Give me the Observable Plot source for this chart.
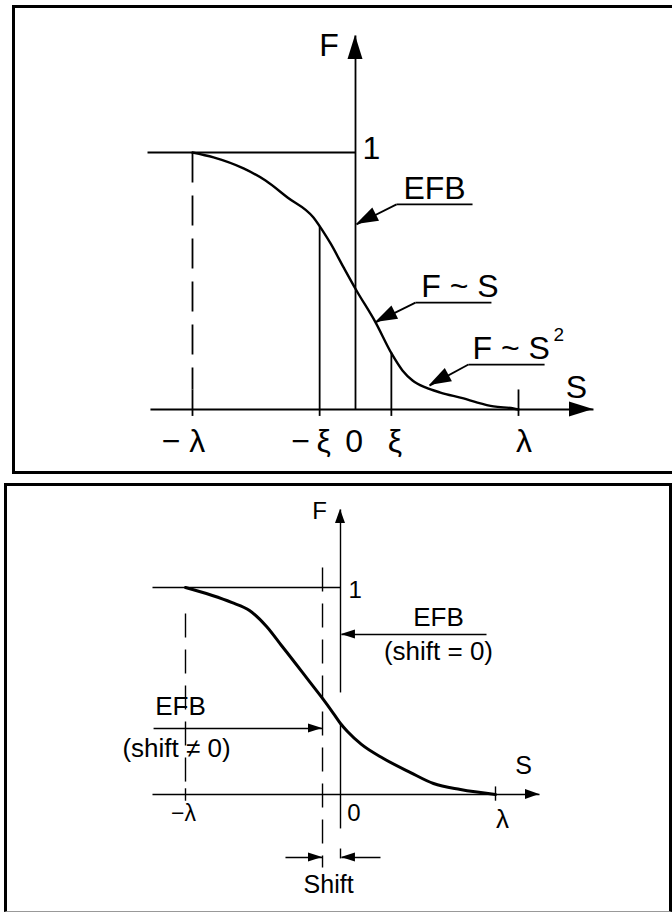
<!DOCTYPE html>
<html>
<head>
<meta charset="utf-8">
<script src="https://cdn.jsdelivr.net/npm/d3@7"></script>
<script src="https://cdn.jsdelivr.net/npm/@observablehq/plot@0.6"></script>
<style>
  html, body { margin: 0; padding: 0; background: #fff; }
  #page { position: relative; width: 672px; height: 912px; overflow: hidden; background: #fff;
          font-family: "Liberation Sans", Arial, sans-serif; }
  .box { position: absolute; border: 3px solid #000; box-sizing: content-box; }
  #topBox { left: 12px; top: 5px; width: 700px; height: 463px; }
  #botBox { left: 4px; top: 483px; width: 662px; height: 425px; border-bottom: 1px solid #999; }
  #topChart, #botChart { position: relative; }
</style>
</head>
<body>
<div id="page">
  <div class="box" id="topBox"></div>
  <div class="box" id="botBox"></div>
  <div id="topChart"></div>
  <div id="botChart"></div>
</div>
<script>
// ---------------- DATA (S in units of λ, F normalised) ----------------
// Top panel: transfer function F(S)
const topCurveS = [-1, -0.871, -0.687, -0.552, -0.417, -0.258, -0.202, -0.153, -0.074, 0.006, 0.123, 0.221, 0.288, 0.35, 0.429, 0.521, 0.663, 0.748, 0.847, 0.969, 1];
const topCurveF = [1, 0.981, 0.938, 0.891, 0.825, 0.747, 0.696, 0.646, 0.554, 0.463, 0.339, 0.218, 0.152, 0.113, 0.086, 0.066, 0.043, 0.027, 0.012, 0.004, 0];
const xi = 0.22;
const topTickLabels = ["\u2212 \u03bb", "\u2212\u2009\u03be", "0", "\u03be", "\u03bb"];
const topTickLabelS = [-1.055, -0.273, -0.009, 0.242, 1.034];
const topTickLabelF = -0.167;
// guide segments [S1, F1, S2, F2]
const topSolid = [
  [-1.276, 1, 0, 1],        // F = 1 level
  [-1.258, 0, 1.46, 0],     // S axis
  [0, 0, 0, 1.455],         // F axis
  [-xi, 0.712, -xi, -0.025],
  [xi, 0.222, xi, -0.025],
  [-1, 0.078, -1, -0.025],
  [1, 0.078, 1, -0.025]
];
const topDashed = [[-1, 1, -1, 0.078]];
// annotation labels: text, S, F (baseline), anchor
const topLabels = [
  ["F", -0.163, 1.377, "middle"],
  ["1", 0.098, 0.973, "middle"],
  ["S", 1.356, 0.043, "middle"],
  ["EFB", 0.485, 0.821, "middle"],
  ["F ~ S", 0.641, 0.436, "middle"],
  ["F ~ S", 0.718, 0.195, "start"]
];
const topSuper = [["2", 1.215, 0.265]];
const topUnderlines = [[0.252, 0.798, 0.718, 0.798], [0.368, 0.416, 0.834, 0.416], [0.693, 0.175, 1.16, 0.175]];
const topLeaders = [[0.252, 0.798, 0.006, 0.72], [0.368, 0.416, 0.123, 0.339], [0.693, 0.175, 0.454, 0.093]];
const topAxisHeads = [[1.3, 0, 1.46, 0], [0, 1.3, 0, 1.455]];

// Bottom panel: shifted EFB
const botCurveS = [-1, -0.703, -0.587, -0.477, -0.381, -0.29, -0.206, -0.116, -0.045, 0, 0.045, 0.135, 0.277, 0.452, 0.6, 0.774, 1];
const botCurveF = [1, 0.928, 0.889, 0.812, 0.72, 0.633, 0.551, 0.464, 0.391, 0.343, 0.304, 0.242, 0.174, 0.106, 0.053, 0.024, 0];
const shift = -0.116;
const botSolid = [
  [-1.213, 1, 0, 1],
  [-1.213, 0, 1.284, 0],
  [0, 0.493, 0, 1.377],
  [0, 0.343, 0, -0.164],
  [0, -0.261, 0, -0.309],
  [-1, 0.03, -1, -0.03],
  [1, 0.039, 1, -0.03]
];
const botDashed = [[-1, 0.874, -1, 0.03], [shift, 1.097, shift, -0.353]];
const botArrows = [
  [0.942, 0.773, 0.006, 0.773],
  [-1.206, 0.319, shift, 0.319],
  [-0.355, -0.304, shift, -0.304],
  [0.258, -0.304, 0.006, -0.304]
];
const botAxisHeads = [[1.1, 0, 1.284, 0], [0, 1.2, 0, 1.377]];
const botLabels = [
  ["F", -0.135, 1.329, 24],
  ["1", 0.094, 0.947, 24],
  ["S", 1.181, 0.101, 25],
  ["\u2212\u03bb", -1.013, -0.126, 23],
  ["0", 0.087, -0.126, 24],
  ["\u03bb", 1.045, -0.164, 26],
  ["EFB", 0.632, 0.812, 26],
  ["(shift = 0)", 0.632, 0.652, 26],
  ["EFB", -1.032, 0.382, 26],
  ["(shift \u2260 0)", -1.058, 0.179, 26],
  ["Shift", -0.077, -0.478, 25]
];

// ---------------- helpers ----------------
const seg = a => a.map(([x1, y1, x2, y2]) => ({x1, y1, x2, y2}));
const font = "'Liberation Sans', Arial, Helvetica, sans-serif";

function heads(data, len, wid) {
  const rows = seg(data);
  return Plot.dot(rows, {
    x: "x2", y: "y2", r: 1,
    render(index, scales) {
      const {x, y} = scales;
      const g = d3.create("svg:g");
      for (const i of index) {
        const d = rows[i];
        const ax = x(d.x1), ay = y(d.y1), bx = x(d.x2), by = y(d.y2);
        const a = Math.atan2(by - ay, bx - ax);
        const ux = Math.cos(a), uy = Math.sin(a);
        const px = -uy, py = ux;
        const cx = bx - ux * len, cy = by - uy * len;
        g.append("path")
          .attr("d", `M${bx},${by}L${cx + px * wid / 2},${cy + py * wid / 2}L${cx - px * wid / 2},${cy - py * wid / 2}Z`)
          .attr("fill", "#000");
      }
      return g.node();
    }
  });
}

// ---------------- top chart ----------------
const topCurve = topCurveS.map((S, i) => ({S, F: topCurveF[i]}));
const topTicks = topTickLabels.map((t, i) => ({t, S: topTickLabelS[i], F: topTickLabelF}));
const topText = topLabels.map(([t, S, F, anchor]) => ({t, S, F, anchor}));

const topPlot = Plot.plot({
  width: 672, height: 478,
  marginLeft: 192, marginRight: 154, marginTop: 152, marginBottom: 69,
  x: {domain: [-1, 1], axis: null},
  y: {domain: [0, 1], axis: null},
  style: {background: "transparent", fontFamily: font, color: "#000"},
  marks: [
    Plot.link(seg(topSolid), {x1: "x1", y1: "y1", x2: "x2", y2: "y2", stroke: "#000", strokeWidth: 1.8}),
    Plot.link(seg(topDashed), {x1: "x1", y1: "y1", x2: "x2", y2: "y2", stroke: "#000", strokeWidth: 1.8, strokeDasharray: "30,13"}),
    Plot.link(seg(topUnderlines), {x1: "x1", y1: "y1", x2: "x2", y2: "y2", stroke: "#000", strokeWidth: 1.8}),
    Plot.link(seg(topLeaders), {x1: "x1", y1: "y1", x2: "x2", y2: "y2", stroke: "#000", strokeWidth: 1.8}),
    Plot.line(topCurve, {x: "S", y: "F", stroke: "#000", strokeWidth: 2.4, curve: "monotone-x"}),
    heads(topLeaders, 22, 15),
    heads(topAxisHeads, 24, 15),
    Plot.text(topTicks, {x: "S", y: "F", text: "t", fontSize: 32, textAnchor: "middle", lineAnchor: "bottom", fill: "#000"}),
    Plot.text(topText.filter(d => d.anchor === "middle"), {x: "S", y: "F", text: "t", fontSize: 32, textAnchor: "middle", lineAnchor: "bottom", fill: "#000"}),
    Plot.text(topText.filter(d => d.anchor === "start"), {x: "S", y: "F", text: "t", fontSize: 32, textAnchor: "start", lineAnchor: "bottom", fill: "#000"}),
    Plot.text(topSuper.map(([t, S, F]) => ({t, S, F})), {x: "S", y: "F", text: "t", fontSize: 19, textAnchor: "start", lineAnchor: "bottom", fill: "#000"})
  ]
});
document.getElementById("topChart").append(topPlot);

// ---------------- bottom chart ----------------
const botCurve = botCurveS.map((S, i) => ({S, F: botCurveF[i]}));
const botText = botLabels.map(([t, S, F, size]) => ({t, S, F, size}));
const botSizes = [...new Set(botText.map(d => d.size))];

const botPlot = Plot.plot({
  width: 672, height: 434,
  marginLeft: 185, marginRight: 177, marginTop: 109, marginBottom: 118,
  x: {domain: [-1, 1], axis: null},
  y: {domain: [0, 1], axis: null},
  style: {background: "transparent", fontFamily: font, color: "#000"},
  marks: [
    Plot.link(seg(botSolid), {x1: "x1", y1: "y1", x2: "x2", y2: "y2", stroke: "#000", strokeWidth: 1.4}),
    Plot.link(seg(botDashed), {x1: "x1", y1: "y1", x2: "x2", y2: "y2", stroke: "#000", strokeWidth: 1.4, strokeDasharray: "24,12"}),
    Plot.link(seg(botArrows), {x1: "x1", y1: "y1", x2: "x2", y2: "y2", stroke: "#000", strokeWidth: 1.4}),
    Plot.line(botCurve, {x: "S", y: "F", stroke: "#000", strokeWidth: 3, curve: "monotone-x"}),
    heads(botArrows, 14, 9),
    heads(botAxisHeads, 14, 10),
    ...botSizes.map(sz =>
      Plot.text(botText.filter(d => d.size === sz), {x: "S", y: "F", text: "t", fontSize: sz, textAnchor: "middle", lineAnchor: "bottom", fill: "#000"}))
  ]
});
document.getElementById("botChart").append(botPlot);
</script>
</body>
</html>
